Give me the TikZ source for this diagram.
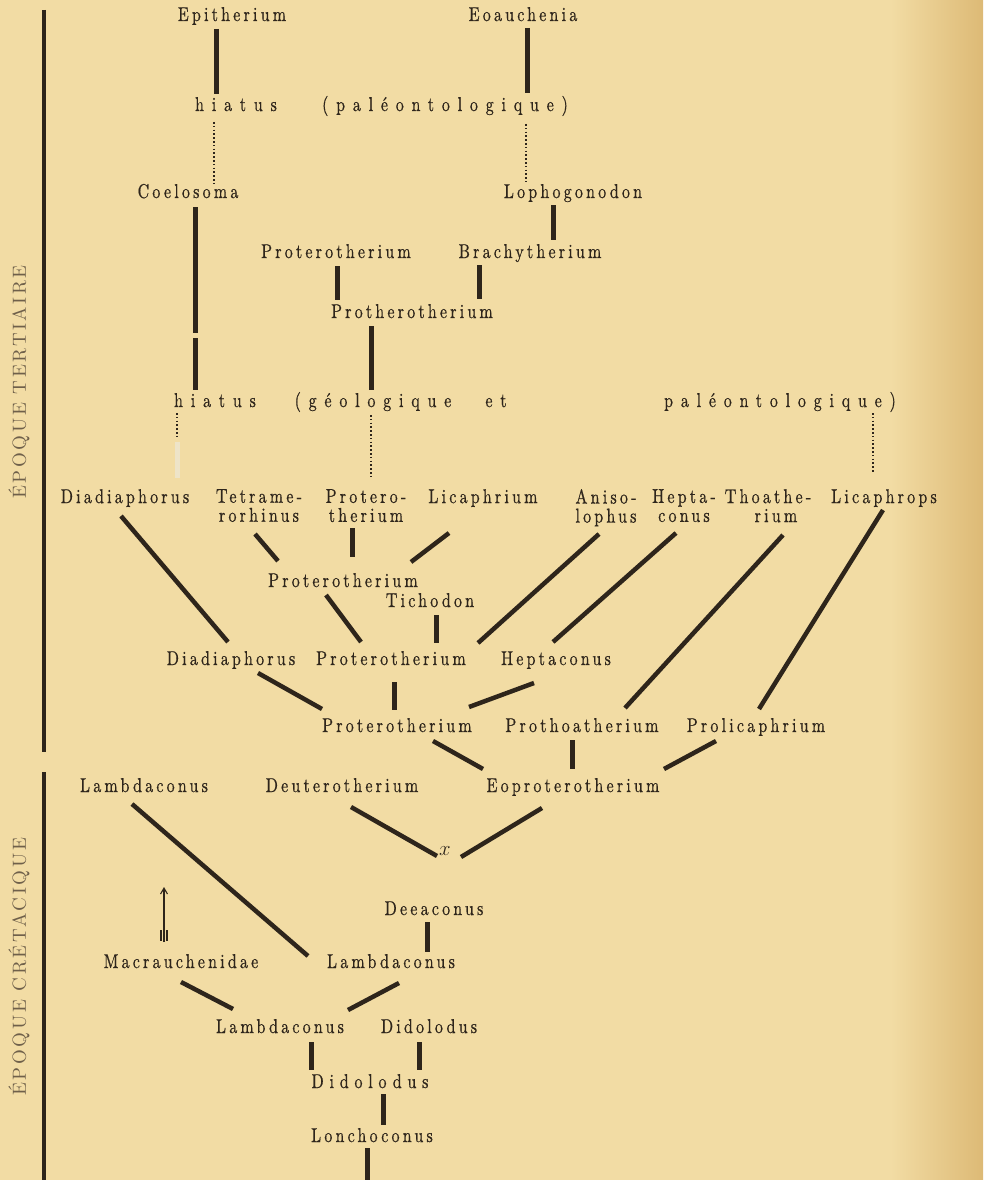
\documentclass[tikz,border=0pt]{standalone}
\usepackage{fontspec}
\usetikzlibrary{arrows.meta}
\newfontfamily\labfont{lmroman10-regular.otf}[FakeStretch=0.8,LetterSpace=16,FakeBold=0.6]
\newfontfamily\spfont{lmroman10-regular.otf}[FakeStretch=0.8,LetterSpace=39,FakeBold=0.6]
\newfontfamily\didfont{lmroman10-regular.otf}[FakeStretch=0.8,LetterSpace=29,FakeBold=0.6]
\newfontfamily\titfont{lmroman10-regular.otf}[LetterSpace=14]
\definecolor{ink}{HTML}{2E251B}
\definecolor{bgc}{HTML}{F2DCA4}
\definecolor{edgec}{HTML}{DDBA76}
\definecolor{epochc}{HTML}{6F604A}
\definecolor{ghost}{HTML}{EEE4C8}
\tikzset{
  lab/.style={font=\labfont\fontsize{20}{19}\selectfont, text=ink, inner sep=0pt, anchor=base},
  toplab/.style={lab, anchor=north, align=center},
  spaced/.style={font=\spfont\fontsize{20}{20}\selectfont, text=ink, inner sep=0pt, anchor=base},
  didlab/.style={font=\didfont\fontsize{20}{20}\selectfont, text=ink, inner sep=0pt, anchor=base},
  epoch/.style={font=\titfont\fontsize{19}{19}\selectfont, text=epochc, rotate=90, inner sep=0pt},
  bar/.style={draw=ink, line width=5pt},
  link/.style={draw=ink, line width=4.5pt},
  dots/.style={draw=ink, line width=1.2pt, dash pattern=on 1.6pt off 2.2pt},
  ghostbar/.style={draw=ghost, line width=5pt},
  rule/.style={draw=ink, line width=4pt},
}
\begin{document}
\begin{tikzpicture}[x=1pt,y=-1pt]
\useasboundingbox (0,0) rectangle (983,1180);
\fill[bgc] (0,0) rectangle (983,1180);
\shade[left color=bgc, right color=edgec] (890,0) rectangle (983,1180);

% epoch rules and titles
\draw[rule] (44,10) -- (44,752);
\draw[rule] (44,772) -- (44,1180);
\node[epoch] (tert) at (19,382) {ÉPOQUE TERTIAIRE};
\node[epoch] (cret) at (19,967) {ÉPOQUE CRÉTACIQUE};

% nodes
\node[lab] (epi) at (232,21) {Epitherium};
\node[lab] (eoa) at (523,21) {Eoauchenia};
\node[spaced] (h1a) at (236,111) {hiatus};
\node[spaced] (h1b) at (445,111) {(paléontologique)};
\node[lab] (coe) at (188,198) {Coelosoma};
\node[lab] (lop) at (573,198) {Lophogonodon};
\node[lab] (pro1) at (336,258) {Proterotherium};
\node[lab] (bra) at (530,258) {Brachytherium};
\node[lab] (prh) at (412,318) {Protherotherium};
\node[spaced] (h2a) at (215,407) {hiatus};
\node[spaced] (h2b) at (373,407) {(géologique};
\node[spaced] (h2c) at (496,407) {et};
\node[spaced] (h2d) at (780,407) {paléontologique)};

\node[toplab] (dia1) at (125,489) {Diadiaphorus};
\node[toplab] (tet) at (259,489) {Tetrame-\\rorhinus};
\node[toplab] (ptr1) at (366,489) {Protero-\\therium};
\node[toplab] (lic) at (483,489) {Licaphrium};
\node[toplab] (ani) at (606,489) {Aniso-\\lophus};
\node[toplab] (hep1) at (684,489) {Hepta-\\conus};
\node[toplab] (tho) at (768,489) {Thoathe-\\\hspace*{16pt}rium};
\node[toplab] (lcp) at (884,489) {Licaphrops};

\node[lab] (pro2) at (343,587) {Proterotherium};
\node[lab] (tic) at (430,607) {Tichodon};
\node[lab] (dia2) at (231,665) {Diadiaphorus};
\node[lab] (pro3) at (391,665) {Proterotherium};
\node[lab] (hep2) at (556,665) {Heptaconus};
\node[lab] (pro4) at (397,732) {Proterotherium};
\node[lab] (pth) at (582,732) {Prothoatherium};
\node[lab] (pli) at (756,732) {Prolicaphrium};
\node[lab] (lam1) at (144,792) {Lambdaconus};
\node[lab] (deu) at (342,792) {Deuterotherium};
\node[lab] (eop) at (573,792) {Eoproterotherium};
\node[lab] (xx) at (445,855) {$x$};
\node[lab] (dec) at (434,915) {Deeaconus};
\node[lab] (mac) at (181,968) {Macrauchenidae};
\node[lab] (lam2) at (391,968) {Lambdaconus};
\node[lab] (lam3) at (280,1033) {Lambdaconus};
\node[lab] (did1) at (429,1033) {Didolodus};
\node[didlab] (did2) at (370,1088) {Didolodus};
\node[lab] (lon) at (372,1142) {Lonchoconus};

% upper part
\draw[bar] ([shift={(-16,8)}]epi.base) -- ([shift={(-20,-17)}]h1a.base);
\draw[bar] ([shift={(4,7)}]eoa.base) -- ([shift={(82,-18)}]h1b.base);
\draw[dots] ([shift={(-22,11)}]h1a.base) -- ([shift={(26,-15)}]coe.base);
\draw[dots] ([shift={(81,13)}]h1b.base) -- ([shift={(-47,-16)}]lop.base);
\coordinate (cb1) at (195,333);
\coordinate (cb2) at (195,338);
\draw[bar] ([shift={(7,9)}]coe.base) -- (cb1);
\draw[bar] (cb2) -- ([shift={(-20,-17)}]h2a.base);
\draw[bar] ([shift={(-20,7)}]lop.base) -- ([shift={(23,-18)}]bra.base);
\draw[bar] ([shift={(1,8)}]pro1.base) -- ([shift={(-75,-18)}]prh.base);
\draw[bar] ([shift={(-51,7)}]bra.base) -- ([shift={(67,-19)}]prh.base);
\draw[bar] ([shift={(-41,8)}]prh.base) -- ([shift={(-2,-17)}]h2b.base);

% below second hiatus
\coordinate (gh1) at (177,437);
\coordinate (gh2) at (177,442);
\draw[dots] ([shift={(-38,6)}]h2a.base) -- (gh1);
\draw[ghostbar] (gh2) -- ([shift={(52,-11)}]dia1.north);
\draw[dots] ([shift={(-2,8)}]h2b.base) -- ([shift={(5,-12)}]ptr1.north);
\draw[dots] ([shift={(93,6)}]h2d.base) -- ([shift={(-11,-16)}]lcp.north);

% tertiary tree
\draw[link] ([shift={(-4,27)}]dia1.north) -- ([shift={(-3,-23)}]dia2.base);
\draw[link] ([shift={(-4,45)}]tet.north) -- ([shift={(-65,-26)}]pro2.base);
\draw[bar]  ([shift={(-14,39)}]ptr1.north) -- ([shift={(9,-30)}]pro2.base);
\draw[link] ([shift={(-34,44)}]lic.north) -- ([shift={(68,-25)}]pro2.base);
\draw[link] ([shift={(-7,45)}]ani.north) -- ([shift={(87,-22)}]pro3.base);
\draw[link] ([shift={(-8,44)}]hep1.north) -- ([shift={(-3,-23)}]hep2.base);
\draw[link] ([shift={(15,46)}]tho.north) -- ([shift={(43,-24)}]pth.base);
\draw[link] ([shift={(-1,21)}]lcp.north) -- ([shift={(3,-23)}]pli.base);
\draw[link] ([shift={(-17,8)}]pro2.base) -- ([shift={(-30,-23)}]pro3.base);
\draw[bar]  ([shift={(6,8)}]tic.base) -- ([shift={(45,-22)}]pro3.base);
\draw[link] ([shift={(27,8)}]dia2.base) -- ([shift={(-75,-23)}]pro4.base);
\draw[bar]  ([shift={(3,17)}]pro3.base) -- ([shift={(-3,-22)}]pro4.base);
\draw[link] ([shift={(-22,18)}]hep2.base) -- ([shift={(72,-25)}]pro4.base);
\draw[link] ([shift={(36,9)}]pro4.base) -- ([shift={(-90,-23)}]eop.base);
\draw[bar]  ([shift={(-10,8)}]pth.base) -- ([shift={(-1,-23)}]eop.base);
\draw[link] ([shift={(-40,9)}]pli.base) -- ([shift={(91,-23)}]eop.base);

% cretaceous tree
\draw[link] ([shift={(-12,12)}]lam1.base) -- ([shift={(-83,-12)}]lam2.base);
\draw[link] ([shift={(9,15)}]deu.base) -- ([shift={(-8,1)}]xx.base);
\draw[link] ([shift={(-31,16)}]eop.base) -- ([shift={(16,2)}]xx.base);
\draw[bar]  ([shift={(-7,7)}]dec.base) -- ([shift={(36,-16)}]lam2.base);
\draw[link] ([shift={(0,14)}]mac.base) -- ([shift={(-47,-24)}]lam3.base);
\draw[link] ([shift={(8,15)}]lam2.base) -- ([shift={(68,-23)}]lam3.base);
\draw[bar]  ([shift={(31,9)}]lam3.base) -- ([shift={(-59,-18)}]did2.base);
\draw[bar]  ([shift={(-10,9)}]did1.base) -- ([shift={(49,-18)}]did2.base);
\draw[bar]  ([shift={(13,6)}]did2.base) -- ([shift={(11,-17)}]lon.base);
\coordinate (root) at (367,1181);
\draw[bar]  ([shift={(-5,6)}]lon.base) -- (root);

% arrow above Macrauchenidae
\draw[ink, line width=1.1pt, -{Straight Barb[length=6pt,width=7pt]}]
  ([shift={(-17,-26)}]mac.base) -- ([shift={(-17,-81)}]mac.base);
\draw[ink, line width=1.5pt]
  ([shift={(-20,-38)}]mac.base) -- ([shift={(-20,-27)}]mac.base)
  ([shift={(-17,-40)}]mac.base) -- ([shift={(-17,-26)}]mac.base)
  ([shift={(-14,-38)}]mac.base) -- ([shift={(-14,-27)}]mac.base);
\end{tikzpicture}
\end{document}
